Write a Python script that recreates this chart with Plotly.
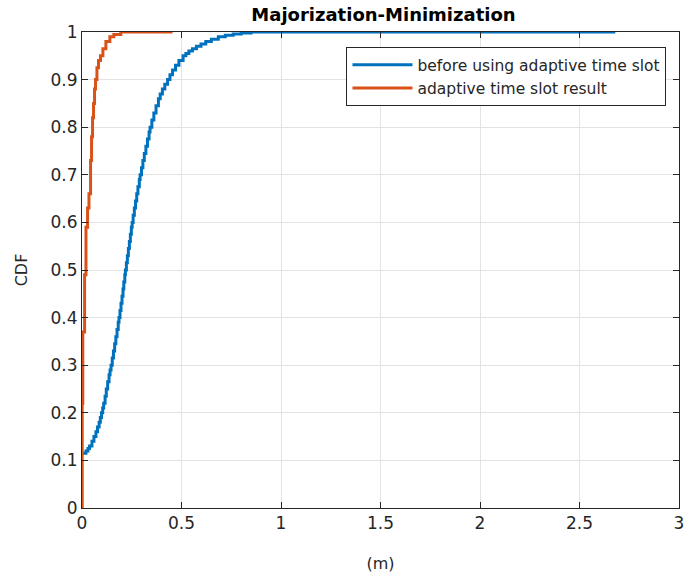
import plotly.graph_objects as go

before_x = [0.0, 0.005, 0.02, 0.03, 0.038, 0.05, 0.06, 0.07, 0.078, 0.086, 0.092, 0.098,
            0.104, 0.109, 0.116, 0.122, 0.129, 0.136, 0.141, 0.146, 0.152, 0.158, 0.164,
            0.170, 0.176, 0.182, 0.186, 0.191, 0.196, 0.201, 0.206, 0.210, 0.215, 0.218,
            0.223, 0.228, 0.233, 0.238, 0.243, 0.248, 0.252, 0.257, 0.263, 0.269, 0.275,
            0.281, 0.288, 0.292, 0.299, 0.306, 0.313, 0.321, 0.329, 0.337, 0.342, 0.351,
            0.361, 0.372, 0.384, 0.393, 0.404, 0.416, 0.430, 0.442, 0.455, 0.470, 0.487,
            0.508, 0.522, 0.537, 0.555, 0.575, 0.598, 0.622, 0.650, 0.685, 0.720, 0.760,
            0.800, 0.850, 2.68]
before_y = [0.115, 0.115, 0.12, 0.125, 0.13, 0.14, 0.15, 0.16, 0.17, 0.18, 0.19, 0.20,
            0.21, 0.22, 0.235, 0.25, 0.265, 0.28, 0.29, 0.30, 0.315, 0.33, 0.345,
            0.36, 0.375, 0.39, 0.40, 0.415, 0.43, 0.445, 0.46, 0.475, 0.49, 0.50,
            0.515, 0.53, 0.545, 0.56, 0.575, 0.59, 0.60, 0.615, 0.63, 0.645, 0.66,
            0.675, 0.69, 0.70, 0.715, 0.73, 0.745, 0.76, 0.775, 0.79, 0.80, 0.815,
            0.83, 0.845, 0.86, 0.87, 0.88, 0.89, 0.90, 0.91, 0.92, 0.93, 0.94,
            0.95, 0.955, 0.96, 0.965, 0.97, 0.975, 0.98, 0.985, 0.99, 0.993, 0.996,
            0.998, 1.0, 1.0]

# Orange: adaptive time slot result
adaptive_x = [0.0, 0.001, 0.004, 0.013, 0.02, 0.028, 0.035, 0.043, 0.048, 0.053, 0.058,
              0.063, 0.068, 0.075, 0.083, 0.093, 0.105, 0.12, 0.14, 0.16, 0.195, 0.455]
adaptive_y = [0.0, 0.22, 0.37, 0.49, 0.59, 0.63, 0.66, 0.73, 0.78, 0.82, 0.85,
              0.88, 0.90, 0.925, 0.94, 0.95, 0.965, 0.98, 0.99, 0.995, 1.0, 1.0]

x_ticks = [0, 0.5, 1, 1.5, 2, 2.5, 3]
x_tick_labels = ["0", "0.5", "1", "1.5", "2", "2.5", "3"]
y_ticks = [0, 0.1, 0.2, 0.3, 0.4, 0.5, 0.6, 0.7, 0.8, 0.9, 1]
y_tick_labels = ["0", "0.1", "0.2", "0.3", "0.4", "0.5", "0.6", "0.7", "0.8", "0.9", "1"]

FONT = "DejaVu Sans, Liberation Sans, sans-serif"
TXT = "#262626"

fig = go.Figure()
fig.add_trace(go.Scatter(x=before_x, y=before_y, mode="lines", line_shape="hv",
                         line=dict(color="#0072BD", width=3),
                         name="before using adaptive time slot"))
fig.add_trace(go.Scatter(x=adaptive_x, y=adaptive_y, mode="lines", line_shape="hv",
                         line=dict(color="#D95319", width=3),
                         name="adaptive time slot result"))

axis_common = dict(showgrid=True, gridcolor="#e3e3e3", gridwidth=1,
                   showline=True, linecolor=TXT, linewidth=1,
                   mirror="ticks", ticks="inside", ticklen=6, tickcolor=TXT,
                   zeroline=False, tickfont=dict(family=FONT, size=17, color=TXT))

fig.update_xaxes(range=[0, 3], tickvals=x_ticks, ticktext=x_tick_labels,
                 title=dict(text="(m)", font=dict(family=FONT, size=16, color=TXT),
                            standoff=25),
                 **axis_common)
fig.update_yaxes(range=[0, 1], tickvals=y_ticks, ticktext=y_tick_labels,
                 title=dict(text="CDF", font=dict(family=FONT, size=16, color=TXT),
                            standoff=18),
                 **axis_common)

fig.update_layout(
    width=691, height=577,
    margin=dict(l=82, r=7, t=32, b=69),
    paper_bgcolor="white", plot_bgcolor="white",
    title=dict(text="<b>Majorization-Minimization</b>", x=0.555, xanchor="center",
               y=0.975, yanchor="middle",
               font=dict(family=FONT, size=18, color="#000000")),
    legend=dict(x=0.443, y=0.968, xanchor="left", yanchor="top",
                bgcolor="white", bordercolor=TXT, borderwidth=1,
                font=dict(family=FONT, size=15.5, color=TXT),
                itemwidth=60, tracegroupgap=0),
    showlegend=True,
)

fig.write_html("out.html")
